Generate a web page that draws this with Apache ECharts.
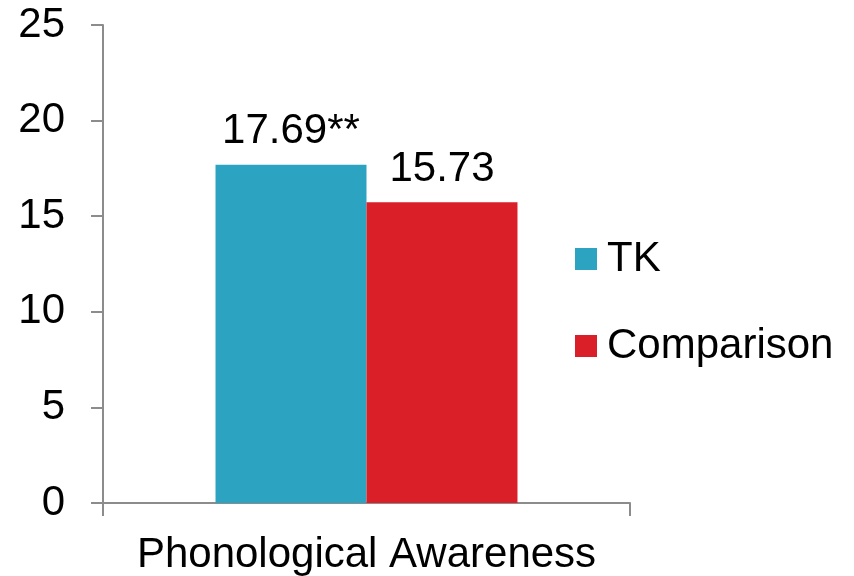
<!DOCTYPE html>
<html>
<head>
<meta charset="utf-8">
<script src="https://cdn.jsdelivr.net/npm/echarts@6/dist/echarts.min.js"></script>
<style>html,body{margin:0;padding:0;background:#fff}#c{width:854px;height:576px}</style>
</head>
<body>
<div id="c"></div>
<script>
const categories = ['Phonological Awareness'];
const seriesNames = ['TK', 'Comparison'];
const tkValues = [17.69];
const comparisonValues = [15.73];
const dataLabels = { TK: ['17.69**'], Comparison: ['15.73'] };
const yTicks = [0, 5, 10, 15, 20, 25];

const font = '"Liberation Sans", Arial, sans-serif';
const chart = echarts.init(document.getElementById('c'), null, { renderer: 'canvas' });
chart.setOption({
  animation: false,
  backgroundColor: '#ffffff',
  grid: { left: 103, right: 224, top: 25, bottom: 72, containLabel: false },
  legend: {
    orient: 'vertical',
    left: 575,
    top: 238,
    padding: 0,
    itemWidth: 22,
    itemHeight: 22,
    itemGap: 45,
    icon: 'rect',
    textStyle: { fontFamily: font, fontSize: 42, color: '#000', padding: [0, 0, 0, 5] },
    data: seriesNames
  },
  xAxis: {
    type: 'category',
    data: categories,
    axisLine: { show: true, lineStyle: { color: '#8c8c8c', width: 2 } },
    axisTick: { show: true, length: 13, lineStyle: { color: '#8c8c8c', width: 2 } },
    axisLabel: { fontFamily: font, fontSize: 42, color: '#000', margin: 31 }
  },
  yAxis: {
    type: 'value',
    min: yTicks[0],
    max: yTicks[yTicks.length - 1],
    interval: 5,
    splitLine: { show: false },
    axisLine: { show: true, lineStyle: { color: '#8c8c8c', width: 2 } },
    axisTick: { show: true, length: 12, lineStyle: { color: '#8c8c8c', width: 2 } },
    axisLabel: { fontFamily: font, fontSize: 42, color: '#000', margin: 38 }
  },
  series: [
    {
      name: seriesNames[0],
      type: 'bar',
      data: tkValues,
      barGap: '0%',
      barCategoryGap: '42.7%',
      itemStyle: { color: '#2CA3C0' },
      label: {
        show: true, position: 'top', distance: 12,
        fontFamily: font, fontSize: 42, color: '#000',
        formatter: p => dataLabels.TK[p.dataIndex]
      }
    },
    {
      name: seriesNames[1],
      type: 'bar',
      data: comparisonValues,
      barGap: '0%',
      barCategoryGap: '42.7%',
      itemStyle: { color: '#DA1F28' },
      label: {
        show: true, position: 'top', distance: 12,
        fontFamily: font, fontSize: 42, color: '#000',
        formatter: p => dataLabels.Comparison[p.dataIndex]
      }
    }
  ]
});
</script>
</body>
</html>
